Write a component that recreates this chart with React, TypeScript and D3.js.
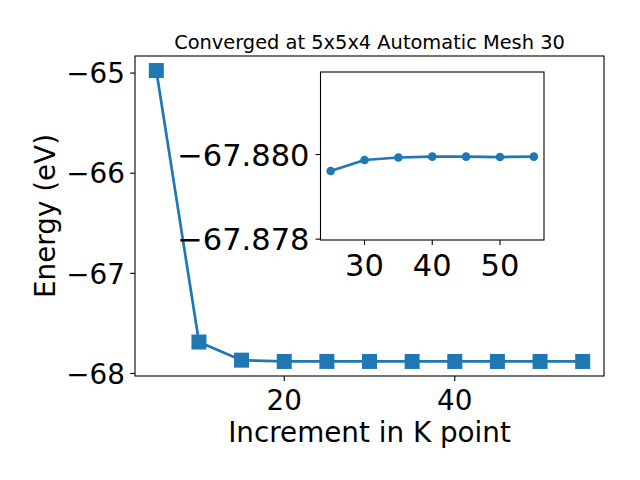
import React from "react";
import * as d3 from "d3";

const kPoints = [5, 10, 15, 20, 25, 30, 35, 40, 45, 50, 55];
const energies = [-64.975, -67.686, -67.867, -67.87995, -67.87961, -67.87987, -67.87993, -67.87995, -67.87995, -67.87994, -67.87995];
const insetK = [25, 30, 35, 40, 45, 50, 55];
const insetEnergies = [-67.87961, -67.87987, -67.87993, -67.87995, -67.87995, -67.87994, -67.87995];
const mainXTicks = [20, 40];
const mainYTicks = [-68, -67, -66, -65];
const insetXTicks = [30, 40, 50];
const insetYTicks = [-67.88, -67.878];
const insetYLim = [-67.87798, -67.88195];
const title = "Converged at 5x5x4 Automatic Mesh 30";
const xLabel = "Increment in K point";
const yLabel = "Energy (eV)";

const BLUE = "#1f77b4";
const FONT = "DejaVu Sans";
const FS = 27.8;
const FSI = 30.5;

function pad(ext: [number, number]): [number, number] {
  const m = (ext[1] - ext[0]) * 0.05;
  return [ext[0] - m, ext[1] + m];
}

const minus = (s: string) => s.replace("-", "\u2212");

export default function App() {
  const M = { l: 135, r: 604, t: 56, b: 376 };
  const x = d3.scaleLinear().domain(pad(d3.extent(kPoints) as [number, number])).range([M.l, M.r]);
  const y = d3.scaleLinear().domain(pad(d3.extent(energies) as [number, number])).range([M.b, M.t]);
  const line = d3.line<number>().x((_, i) => x(kPoints[i])).y((d) => y(d));

  const I = { l: 320.5, r: 544, t: 72, b: 240 };
  const xi = d3.scaleLinear().domain(pad(d3.extent(insetK) as [number, number])).range([I.l, I.r]);
  const yi = d3.scaleLinear().domain(insetYLim).range([I.b, I.t]);
  const lineI = d3.line<number>().x((_, i) => xi(insetK[i])).y((d) => yi(d));

  const ms = 15;
  return (
    <div style={{ position: "absolute", left: 0, top: 0 }}>
      <svg width={640} height={480} style={{ display: "block", background: "#fff" }} fontFamily={FONT}>
        <rect x={0} y={0} width={640} height={480} fill="#fff" />
        {/* main */}
        <path d={line(energies) || ""} fill="none" stroke={BLUE} strokeWidth={2.7} strokeLinejoin="round" />
        {energies.map((e, i) => (
          <rect key={i} x={x(kPoints[i]) - ms / 2} y={y(e) - ms / 2} width={ms} height={ms} fill={BLUE} />
        ))}
        <rect x={M.l} y={M.t} width={M.r - M.l} height={M.b - M.t} fill="none" stroke="#000" strokeWidth={1.1} />
        {mainXTicks.map((t) => (
          <g key={t}>
            <line x1={x(t)} x2={x(t)} y1={M.b} y2={M.b + 4.9} stroke="#000" strokeWidth={1.1} />
            <text x={x(t)} y={409.5} fontSize={FS} textAnchor="middle">{minus(String(t))}</text>
          </g>
        ))}
        {mainYTicks.map((t) => (
          <g key={t}>
            <line x1={M.l - 4.9} x2={M.l} y1={y(t)} y2={y(t)} stroke="#000" strokeWidth={1.1} />
            <text x={M.l - 10} y={y(t) + 10.2} fontSize={FS} textAnchor="end">{minus(String(t))}</text>
          </g>
        ))}
        <text x={(M.l + M.r) / 2} y={442} fontSize={FS} textAnchor="middle">{xLabel}</text>
        <text transform={`translate(55,${(M.t + M.b) / 2}) rotate(-90)`} fontSize={FS} textAnchor="middle">{yLabel}</text>
        <text x={(M.l + M.r) / 2} y={48.5} fontSize={19.4} textAnchor="middle">{title}</text>

        {/* inset */}
        <rect x={I.l} y={I.t} width={I.r - I.l} height={I.b - I.t} fill="#fff" />
        <path d={lineI(insetEnergies) || ""} fill="none" stroke={BLUE} strokeWidth={2.7} strokeLinejoin="round" />
        {insetEnergies.map((e, i) => (
          <circle key={i} cx={xi(insetK[i])} cy={yi(e)} r={4.3} fill={BLUE} />
        ))}
        <rect x={I.l} y={I.t} width={I.r - I.l} height={I.b - I.t} fill="none" stroke="#000" strokeWidth={1.1} />
        {insetXTicks.map((t) => (
          <g key={t}>
            <line x1={xi(t)} x2={xi(t)} y1={I.b} y2={I.b + 4.9} stroke="#000" strokeWidth={1.1} />
            <text x={xi(t)} y={275.5} fontSize={FSI} textAnchor="middle">{String(t)}</text>
          </g>
        ))}
        {insetYTicks.map((t) => (
          <g key={t}>
            <line x1={I.l - 4.9} x2={I.l} y1={yi(t)} y2={yi(t)} stroke="#000" strokeWidth={1.1} />
            <text x={I.l - 11} y={yi(t) + 11.1} fontSize={FSI} textAnchor="end">{minus(d3.format(".3f")(t))}</text>
          </g>
        ))}
      </svg>
    </div>
  );
}
